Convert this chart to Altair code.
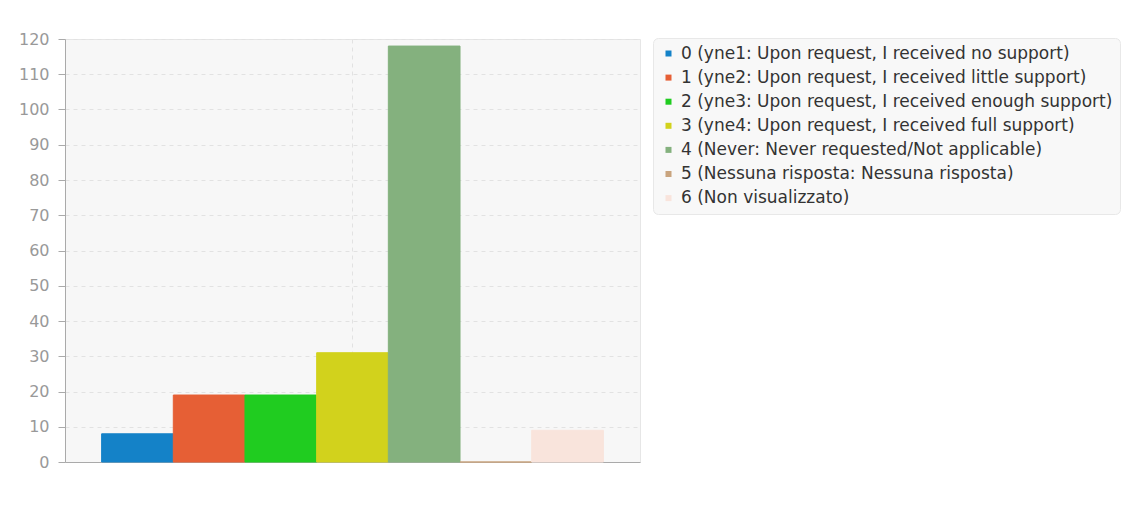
import altair as alt
import pandas as pd

categories = [
    "0 (yne1: Upon request, I received no support)",
    "1 (yne2: Upon request, I received little support)",
    "2 (yne3: Upon request, I received enough support)",
    "3 (yne4: Upon request, I received full support)",
    "4 (Never: Never requested/Not applicable)",
    "5 (Nessuna risposta: Nessuna risposta)",
    "6 (Non visualizzato)",
]
values = [8, 19, 19, 31, 118, 0, 9]
colors = ["#1482c8", "#e65f35", "#20cc20", "#d2d21c", "#84b17e", "#c9a47e", "#f9e4dc"]
y_ticks = list(range(0, 121, 10))

df = pd.DataFrame({"group": [""] * len(categories), "answer": categories, "count": values})

color_scale = alt.Scale(domain=categories, range=colors)

bars = alt.Chart(df).mark_bar(strokeWidth=1).encode(
    x=alt.X(
        "group:N",
        title=None,
        scale=alt.Scale(paddingInner=0, paddingOuter=0.073),
        axis=alt.Axis(
            labels=False, ticks=False, grid=True, gridDash=[4, 4], gridColor="#e2e2e2",
            domainColor="#aaaaaa", bandPosition=0.5,
        ),
    ),
    xOffset=alt.XOffset("answer:N", sort=categories, scale=alt.Scale(paddingInner=0, paddingOuter=0)),
    y=alt.Y(
        "count:Q",
        title=None,
        scale=alt.Scale(domain=[0, 120], nice=False),
        axis=alt.Axis(
            values=y_ticks, grid=True, gridDash=[4, 4], gridColor="#e2e2e2",
            domainColor="#aaaaaa", tickColor="#aaaaaa", tickSize=7, labelPadding=9,
            labelColor="#999999", labelFontSize=16, labelFont="DejaVu Sans",
        ),
    ),
    color=alt.Color(
        "answer:N",
        sort=categories,
        scale=color_scale,
        legend=alt.Legend(
            title=None, orient="none", legendX=588, legendY=-1,
            symbolType="square", symbolSize=36, symbolStrokeWidth=0,
            labelFontSize=17, labelFont="DejaVu Sans", labelColor="#333333",
            labelLimit=700, labelOffset=4, rowPadding=6.1, padding=7,
            fillColor="#f8f8f8", strokeColor="#e8e8e8", cornerRadius=5,
        ),
    ),
    stroke=alt.Stroke("answer:N", sort=categories, scale=color_scale, legend=None),
)

chart = bars.properties(
    width=575,
    height=423,
    autosize=alt.AutoSizeParams(type="none"),
    padding={"left": 57, "top": 31, "right": 492, "bottom": 50},
    background="#ffffff",
).configure_view(
    fill="#f7f7f7", stroke="#e6e6e6"
)

chart.save("out.html", embed_options={"renderer": "svg", "actions": False})
